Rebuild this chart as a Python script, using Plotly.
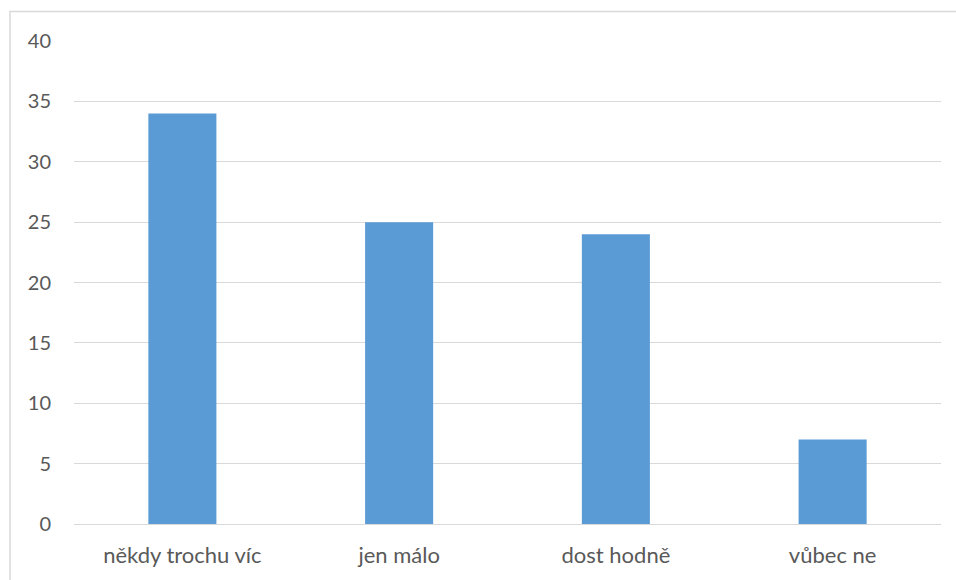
import plotly.graph_objects as go

categories = ["někdy trochu víc", "jen málo", "dost hodně", "vůbec ne"]
values = [34, 25, 24, 7]
y_ticks = [0, 5, 10, 15, 20, 25, 30, 35, 40]

W, H = 956, 580
m_l, m_r, m_t, m_b = 74, 15, 41, 54
pw = W - m_l - m_r
ph = H - m_t - m_b

fig = go.Figure(
    go.Bar(
        x=categories,
        y=values,
        marker=dict(color="#5B9BD5", line=dict(width=0)),
        width=0.314,
    )
)

font = dict(family="Lato, 'Open Sans', sans-serif", color="#595959")

fig.update_layout(
    width=W,
    height=H,
    margin=dict(l=m_l, r=m_r, t=m_t, b=m_b),
    paper_bgcolor="white",
    plot_bgcolor="white",
    showlegend=False,
    font=font,
    xaxis=dict(
        showgrid=False,
        showline=True,
        linecolor="#d9d9d9",
        linewidth=1,
        ticks="outside",
        ticklen=12,
        tickcolor="rgba(0,0,0,0)",
        tickfont=dict(size=22, **font),
        fixedrange=True,
    ),
    yaxis=dict(
        range=[0, 40],
        tickvals=y_ticks,
        showgrid=True,
        gridcolor="#d9d9d9",
        gridwidth=1,
        zeroline=False,
        showline=False,
        ticks="outside",
        ticklen=18,
        tickcolor="rgba(0,0,0,0)",
        tickfont=dict(size=20, **font),
        fixedrange=True,
    ),
    shapes=[
        dict(
            type="rect",
            xref="paper",
            yref="paper",
            x0=(10 - m_l) / pw,
            x1=1.2,
            y0=-0.3,
            y1=1 + (m_t - 11.5) / ph,
            line=dict(color="#d9d9d9", width=1.5),
            fillcolor="rgba(0,0,0,0)",
            layer="below",
        )
    ],
)

fig.write_html("out.html")
